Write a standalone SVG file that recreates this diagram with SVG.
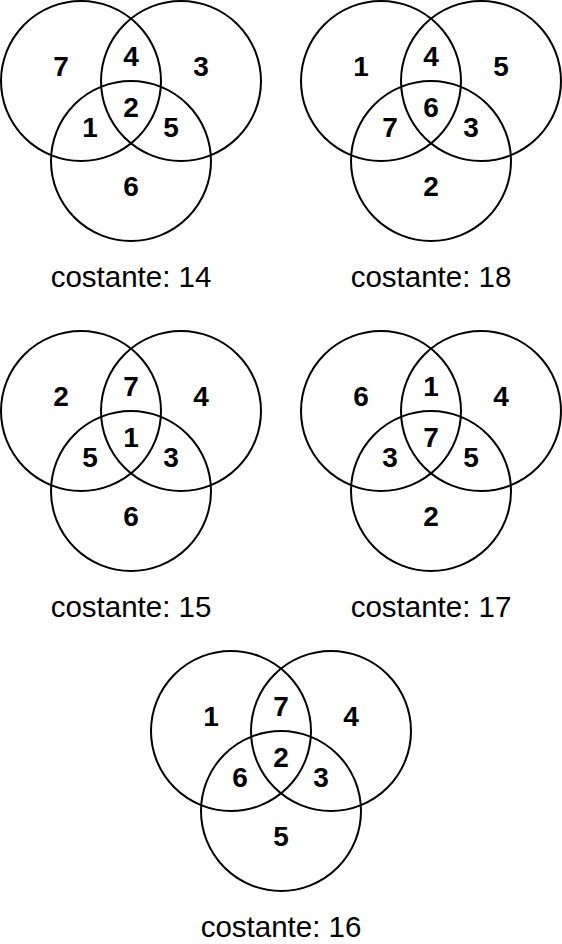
<svg xmlns="http://www.w3.org/2000/svg" xmlns:xlink="http://www.w3.org/1999/xlink" width="562" height="944" viewBox="0 0 562 944">
<style>
.c{fill:none;stroke:#000;stroke-width:2}
.n{font-family:"Liberation Sans",Arial,sans-serif;font-weight:bold;font-size:28px;text-anchor:middle;fill:#000}
.l{font-family:"Liberation Sans",Arial,sans-serif;font-size:29.5px;text-anchor:middle;fill:#000}
</style>
<defs>
<g id="venn">
<circle class="c" cx="81" cy="81" r="80"/>
<circle class="c" cx="181" cy="81" r="80"/>
<circle class="c" cx="131" cy="161" r="80"/>
</g>
</defs>
<rect width="562" height="944" fill="#fff"/>
<g id="connectors"></g>
<g id="venn14" transform="translate(0,0)">
<use xlink:href="#venn"/>
<text class="n" x="61" y="76">7</text><text class="n" x="131" y="66">4</text><text class="n" x="201" y="76">3</text>
<text class="n" x="131" y="117">2</text><text class="n" x="90" y="137">1</text><text class="n" x="171" y="137">5</text>
<text class="n" x="131" y="196">6</text>
<text class="l" x="131" y="287">costante: 14</text>
</g>
<g id="venn18" transform="translate(300,0)">
<use xlink:href="#venn"/>
<text class="n" x="61" y="76">1</text><text class="n" x="131" y="66">4</text><text class="n" x="201" y="76">5</text>
<text class="n" x="131" y="117">6</text><text class="n" x="90" y="137">7</text><text class="n" x="171" y="137">3</text>
<text class="n" x="131" y="196">2</text>
<text class="l" x="131" y="287">costante: 18</text>
</g>
<g id="venn15" transform="translate(0,330)">
<use xlink:href="#venn"/>
<text class="n" x="61" y="76">2</text><text class="n" x="131" y="66">7</text><text class="n" x="201" y="76">4</text>
<text class="n" x="131" y="117">1</text><text class="n" x="90" y="137">5</text><text class="n" x="171" y="137">3</text>
<text class="n" x="131" y="196">6</text>
<text class="l" x="131" y="287">costante: 15</text>
</g>
<g id="venn17" transform="translate(300,330)">
<use xlink:href="#venn"/>
<text class="n" x="61" y="76">6</text><text class="n" x="131" y="66">1</text><text class="n" x="201" y="76">4</text>
<text class="n" x="131" y="117">7</text><text class="n" x="90" y="137">3</text><text class="n" x="171" y="137">5</text>
<text class="n" x="131" y="196">2</text>
<text class="l" x="131" y="287">costante: 17</text>
</g>
<g id="venn16" transform="translate(150,650)">
<use xlink:href="#venn"/>
<text class="n" x="61" y="76">1</text><text class="n" x="131" y="66">7</text><text class="n" x="201" y="76">4</text>
<text class="n" x="131" y="117">2</text><text class="n" x="90" y="137">6</text><text class="n" x="171" y="137">3</text>
<text class="n" x="131" y="196">5</text>
<text class="l" x="131" y="287">costante: 16</text>
</g>
</svg>
